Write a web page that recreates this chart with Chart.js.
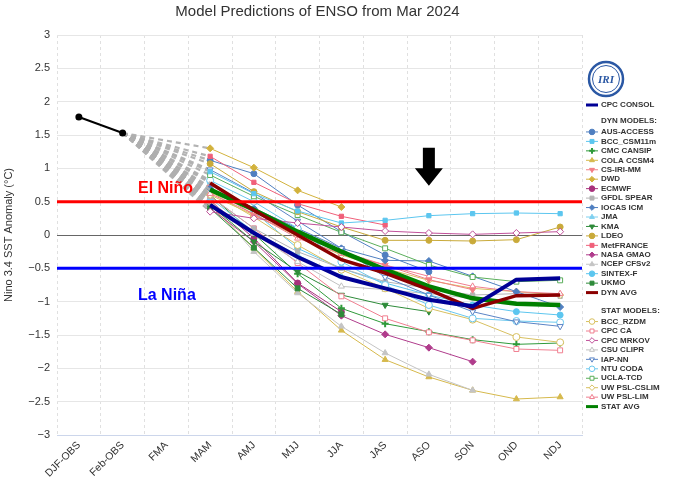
<!DOCTYPE html>
<html><head><meta charset="utf-8">
<script src="https://cdn.jsdelivr.net/npm/chart.js@4.4.1/dist/chart.umd.min.js"></script>
<style>html,body{margin:0;padding:0;background:#fff;}#wrap{width:674px;height:486px;position:relative;}</style>
</head><body><div id="wrap"><canvas id="c" width="674" height="486"></canvas></div>
<script>
// ---------- DATA ----------
const categories = ['DJF-OBS','Feb-OBS','FMA','MAM','AMJ','MJJ','JJA','JAS','ASO','SON','OND','NDJ'];
const yTicks = [-3,-2.5,-2,-1.5,-1,-0.5,0,0.5,1,1.5,2,2.5,3];
const observed = [1.77, 1.53, null, null, null, null, null, null, null, null, null, null];
// forecasts: MAM, AMJ, MJJ, JJA, JAS, ASO, SON, OND, NDJ
const cpcConsol  = [0.45, 0.03, -0.33, -0.63, -0.80, -0.97, -1.07, -0.67, -0.65];
const ausAccess  = [1.12, 0.92, 0.45, 0.05, -0.30, -0.55, null, null, null];
const bccCsm11m  = [0.95, 0.62, 0.36, 0.18, 0.22, 0.29, 0.32, 0.33, 0.32];
const cmcCansip  = [0.60, 0.02, -0.58, -1.10, -1.33, -1.45, -1.57, -1.64, -1.62];
const colaCcsm4  = [0.45, -0.20, -0.85, -1.43, -1.87, -2.13, -2.33, -2.46, -2.43];
const csIriMm    = [0.72, 0.30, 0.00, -0.25, -0.45, -0.67, -0.82, null, null];
const dwd        = [1.30, 1.01, 0.67, 0.42, null, null, null, null, null];
const ecmwf      = [0.52, -0.05, -0.72, -1.15, null, null, null, null, null];
const gfdlSpear  = [0.58, 0.10, -0.25, -0.50, -0.70, -0.80, -0.90, -0.88, -0.92];
const iocasIcm   = [0.70, 0.40, 0.10, -0.20, -0.38, -0.39, -0.62, -0.85, -1.08];
const jma        = [0.55, 0.05, -0.30, -0.62, -0.80, -0.95, null, null, null];
const kma        = [0.45, -0.10, -0.55, -0.90, -1.05, -1.15, null, null, null];
const ldeo       = [1.07, 0.65, 0.35, 0.12, -0.08, -0.08, -0.09, -0.07, 0.12];
const metFrance  = [1.18, 0.79, 0.47, 0.28, 0.15, null, null, null, null];
const nasaGmao   = [0.40, -0.10, -0.73, -1.21, -1.49, -1.69, -1.90, null, null];
const ncepCfsv2  = [0.50, -0.25, -0.87, -1.37, -1.77, -2.09, -2.33, null, null];
const sintexF    = [0.80, 0.35, -0.20, -0.50, -0.72, -0.90, -1.05, -1.15, -1.20];
const ukmo       = [0.40, -0.19, -0.80, -1.19, null, null, null, null, null];
const dynAvg     = [0.78, 0.37, 0.00, -0.37, -0.57, -0.82, -1.10, -0.91, -0.90];
const bccRzdm    = [0.65, 0.27, -0.15, -0.52, -0.80, -1.10, -1.27, -1.53, -1.61];
const cpcCa      = [0.58, 0.10, -0.42, -0.92, -1.25, -1.46, -1.58, -1.71, -1.73];
const cpcMrkov   = [0.35, 0.25, 0.18, 0.12, 0.06, 0.03, 0.01, 0.03, 0.05];
const csuClipr   = [0.50, 0.02, -0.40, -0.77, -0.82, -0.88, -0.95, null, null];
const iapNn      = [0.98, 0.63, 0.21, -0.20, -0.63, -0.90, -1.15, -1.30, -1.37];
const ntuCoda    = [0.82, 0.50, 0.10, -0.40, -0.75, -1.05, -1.25, -1.29, -1.31];
const uclaTcd    = [0.90, 0.58, 0.30, 0.04, -0.20, -0.45, -0.63, -0.70, -0.68];
const uwPslCslim = [0.60, 0.30, -0.02, -0.30, -0.50, -0.68, -0.80, -0.85, -0.90];
const uwPslLim   = [0.62, 0.32, -0.05, -0.28, -0.45, -0.62, -0.77, -0.85, -0.88];
const statAvg    = [0.68, 0.38, 0.05, -0.25, -0.52, -0.77, -0.95, -1.03, -1.05];

// ---------- STYLES ----------
const DASH = 'rgba(175,175,175,0.95)';
const FONT = '"Liberation Sans", Arial, sans-serif';
Chart.defaults.font.family = FONT;
Chart.defaults.color = '#333';

const isLink = (c) => c.p1DataIndex === 3 || c.p0DataIndex === 1;

function series(label, vals, color, style, o) {
  o = o || {};
  const open = !!o.open;
  return {
    label: label,
    data: [null, observed[1], null].concat(vals),
    borderColor: color,
    backgroundColor: open ? '#fff' : color,
    pointBackgroundColor: open ? '#fff' : color,
    pointBorderColor: color,
    pointStyle: style || 'circle',
    pointRotation: o.rot || 0,
    pointRadius: (c) => (c.dataIndex < 3 || !style) ? 0 : (o.r || 3),
    pointBorderWidth: o.bw || 1,
    borderWidth: o.w || 1,
    spanGaps: true,
    tension: 0,
    fill: false,
    _legendW: o.w || 1,
    segment: {
      borderColor: (c) => isLink(c) ? DASH : undefined,
      borderDash: (c) => isLink(c) ? [5, 4] : undefined,
      borderWidth: (c) => isLink(c) ? 2.2 : undefined
    }
  };
}

const obsSet = {
  label: 'OBS', data: observed, borderColor: '#000', backgroundColor: '#000',
  pointBackgroundColor: '#000', pointBorderColor: '#000', pointRadius: 2.5,
  borderWidth: 2, spanGaps: false, tension: 0, fill: false
};

const S = {
  'CPC CONSOL': series('CPC CONSOL', cpcConsol, '#000096', null, {w: 4}),
  'DYN AVG': series('DYN AVG', dynAvg, '#8b0000', null, {w: 3.5}),
  'STAT AVG': series('STAT AVG', statAvg, '#008000', null, {w: 4.5}),
  'AUS-ACCESS': series('AUS-ACCESS', ausAccess, '#4f7fc0', 'circle'),
  'BCC_CSM11m': series('BCC_CSM11m', bccCsm11m, '#5cc6ef', 'rect'),
  'CMC CANSIP': series('CMC CANSIP', cmcCansip, '#2f9a3a', 'cross', {bw: 2, r: 3.5}),
  'COLA CCSM4': series('COLA CCSM4', colaCcsm4, '#d6b94c', 'triangle', {r: 3.5}),
  'CS-IRI-MM': series('CS-IRI-MM', csIriMm, '#f27f86', 'triangle', {rot: 180, r: 3.5}),
  'DWD': series('DWD', dwd, '#d2b23c', 'rectRot', {r: 3.5}),
  'ECMWF': series('ECMWF', ecmwf, '#a8327c', 'circle'),
  'GFDL SPEAR': series('GFDL SPEAR', gfdlSpear, '#b4b4b4', 'rect'),
  'IOCAS ICM': series('IOCAS ICM', iocasIcm, '#4f7fc0', 'rectRot', {r: 3.5}),
  'JMA': series('JMA', jma, '#7fd0f0', 'triangle', {r: 3.5}),
  'KMA': series('KMA', kma, '#2e8b3a', 'triangle', {rot: 180, r: 3.5}),
  'LDEO': series('LDEO', ldeo, '#c9aa3a', 'circle'),
  'MetFRANCE': series('MetFRANCE', metFrance, '#f0607a', 'rect'),
  'NASA GMAO': series('NASA GMAO', nasaGmao, '#b03c8c', 'rectRot', {r: 3.5}),
  'NCEP CFSv2': series('NCEP CFSv2', ncepCfsv2, '#c4c4c4', 'triangle', {r: 3.5}),
  'SINTEX-F': series('SINTEX-F', sintexF, '#5cc6ef', 'circle'),
  'UKMO': series('UKMO', ukmo, '#2e8b3a', 'rect', {r: 3.5}),
  'BCC_RZDM': series('BCC_RZDM', bccRzdm, '#d8c060', 'circle', {open: true, r: 3.5}),
  'CPC CA': series('CPC CA', cpcCa, '#f07f90', 'rect', {open: true, r: 3.5}),
  'CPC MRKOV': series('CPC MRKOV', cpcMrkov, '#c0509a', 'rectRot', {open: true, r: 3.5}),
  'CSU CLIPR': series('CSU CLIPR', csuClipr, '#c0c0c0', 'triangle', {open: true, r: 3.5}),
  'IAP-NN': series('IAP-NN', iapNn, '#5a84c6', 'triangle', {open: true, rot: 180, r: 3.5}),
  'NTU CODA': series('NTU CODA', ntuCoda, '#6cc8ee', 'circle', {open: true, r: 3.5}),
  'UCLA-TCD': series('UCLA-TCD', uclaTcd, '#5aae5a', 'rect', {open: true, r: 3.5}),
  'UW PSL-CSLIM': series('UW PSL-CSLIM', uwPslCslim, '#d8c060', 'rectRot', {open: true, r: 3.5}),
  'UW PSL-LIM': series('UW PSL-LIM', uwPslLim, '#f07f90', 'triangle', {open: true, r: 3.5})
};

const drawOrder = ['CPC CONSOL','DYN AVG','STAT AVG',
  'CPC MRKOV','BCC_CSM11m','LDEO','MetFRANCE','DWD','UCLA-TCD','IAP-NN','NTU CODA','AUS-ACCESS',
  'IOCAS ICM','CS-IRI-MM','UW PSL-LIM','UW PSL-CSLIM','GFDL SPEAR','BCC_RZDM','SINTEX-F','JMA',
  'CSU CLIPR','CPC CA','KMA','CMC CANSIP','UKMO','ECMWF','NASA GMAO','NCEP CFSv2','COLA CCSM4'];

const legendList = ['CPC CONSOL', '', 'DYN MODELS:', 'AUS-ACCESS','BCC_CSM11m','CMC CANSIP','COLA CCSM4',
  'CS-IRI-MM','DWD','ECMWF','GFDL SPEAR','IOCAS ICM','JMA','KMA','LDEO','MetFRANCE','NASA GMAO',
  'NCEP CFSv2','SINTEX-F','UKMO','DYN AVG', '', 'STAT MODELS:', 'BCC_RZDM','CPC CA','CPC MRKOV',
  'CSU CLIPR','IAP-NN','NTU CODA','UCLA-TCD','UW PSL-CSLIM','UW PSL-LIM','STAT AVG'];

const datasets = [obsSet].concat(drawOrder.map(k => S[k]));

function fmt(v) {
  const s = String(Math.abs(v));
  return v < 0 ? '\u2212' + s : s;
}

const decor = {
  id: 'decor',
  afterDatasetsDraw(chart) {
    const {ctx, chartArea: a, scales: {x, y}} = chart;
    ctx.save();
    ctx.lineWidth = 3;
    ctx.strokeStyle = '#ff0000';
    ctx.beginPath(); ctx.moveTo(a.left, y.getPixelForValue(0.5)); ctx.lineTo(a.right, y.getPixelForValue(0.5)); ctx.stroke();
    ctx.strokeStyle = '#0000ff';
    ctx.beginPath(); ctx.moveTo(a.left, y.getPixelForValue(-0.5)); ctx.lineTo(a.right, y.getPixelForValue(-0.5)); ctx.stroke();
    ctx.font = 'bold 16px ' + FONT;
    ctx.textBaseline = 'middle';
    ctx.fillStyle = '#ff0000';
    ctx.fillText('El Niño', a.left + 81, y.getPixelForValue(0.5) - 13);
    ctx.fillStyle = '#0000ff';
    ctx.fillText('La Niña', a.left + 81, y.getPixelForValue(-0.5) + 27);
    // arrow
    const ax = x.getPixelForValue(8);
    const t = y.getPixelForValue(1.31), h = y.getPixelForValue(1.0), b = y.getPixelForValue(0.74);
    ctx.fillStyle = '#000';
    ctx.beginPath();
    ctx.moveTo(ax - 6, t); ctx.lineTo(ax + 6, t); ctx.lineTo(ax + 6, h); ctx.lineTo(ax + 14, h);
    ctx.lineTo(ax, b); ctx.lineTo(ax - 14, h); ctx.lineTo(ax - 6, h); ctx.closePath(); ctx.fill();
    ctx.restore();
  },
  afterDraw(chart) {
    const {ctx, chartArea: a} = chart;
    ctx.save();
    // title
    ctx.font = '15px ' + FONT;
    ctx.fillStyle = '#333';
    ctx.textAlign = 'center';
    ctx.textBaseline = 'middle';
    ctx.fillText('Model Predictions of ENSO from Mar 2024', (a.left + a.right) / 2 - 2, 12);
    // logo
    const lx = 606, ly = 79;
    ctx.beginPath(); ctx.arc(lx, ly, 17, 0, Math.PI * 2);
    ctx.fillStyle = '#fff'; ctx.fill();
    ctx.lineWidth = 2.5; ctx.strokeStyle = '#2b58a4'; ctx.stroke();
    ctx.beginPath(); ctx.arc(lx, ly, 13.5, 0, Math.PI * 2);
    ctx.lineWidth = 1; ctx.stroke();
    ctx.fillStyle = '#2b58a4';
    ctx.font = 'italic bold 11px "Liberation Serif", serif';
    ctx.fillText('IRI', lx, ly + 1);
    // legend
    ctx.textAlign = 'left';
    ctx.font = 'bold 8px ' + FONT;
    let yy = 105;
    const step = 9.45;
    for (let i = 0; i < legendList.length; i++) {
      const name = legendList[i];
      if (name === '') { yy += (i === 1 ? 6.5 : 8.5); continue; }
      if (name.endsWith(':')) {
        ctx.fillStyle = '#333';
        ctx.fillText(name, 601, yy);
        yy += 11; continue;
      }
      const ds = S[name];
      ctx.strokeStyle = ds.borderColor;
      ctx.lineWidth = ds._legendW > 1 ? 3 : 1;
      ctx.beginPath(); ctx.moveTo(586, yy); ctx.lineTo(598, yy); ctx.stroke();
      if (ds._legendW === 1) {
        ctx.fillStyle = ds.pointBackgroundColor;
        ctx.strokeStyle = ds.borderColor;
        ctx.lineWidth = ds.pointBorderWidth;
        Chart.helpers.drawPoint(ctx, {pointStyle: ds.pointStyle, rotation: ds.pointRotation, radius: 2.8, borderWidth: ds.pointBorderWidth}, 592, yy);
      }
      ctx.fillStyle = '#333';
      ctx.fillText(name, 601, yy);
      yy += step;
    }
    ctx.restore();
  }
};

new Chart(document.getElementById('c'), {
  type: 'line',
  data: { labels: categories, datasets: datasets },
  plugins: [decor],
  options: {
    responsive: false,
    animation: false,
    events: [],
    devicePixelRatio: 1,
    layout: { padding: { left: 0, right: 92, top: 35, bottom: 0 } },
    plugins: { legend: { display: false }, title: { display: false }, tooltip: { enabled: false } },
    scales: {
      x: {
        type: 'category',
        offset: true,
        afterFit: (s) => { s.height = 51; },
        grid: { offset: true, color: '#e0e0e0', lineWidth: 1, drawTicks: false },
        border: { display: true, color: '#ccd6eb', width: 1, dash: [3, 3] },
        ticks: { maxRotation: 45, minRotation: 45, font: { size: 10.5 }, color: '#333', padding: 4, autoSkip: false }
      },
      y: {
        min: -3, max: 3,
        afterFit: (s) => { s.width = 57; },
        afterBuildTicks: (s) => { s.ticks = yTicks.map(v => ({ value: v })); },
        grid: {
          color: (c) => (c.tick && c.tick.value === 0) ? '#666' : '#e6e6e6',
          lineWidth: 1, drawTicks: false
        },
        border: { display: false },
        ticks: { callback: (v) => fmt(v), font: { size: 11 }, color: '#333', padding: 7 },
        title: { display: true, text: 'Nino 3.4 SST Anomaly (°C)', font: { size: 11 }, color: '#333', padding: { top: 2, bottom: 2 } }
      }
    }
  }
});
</script></body></html>
